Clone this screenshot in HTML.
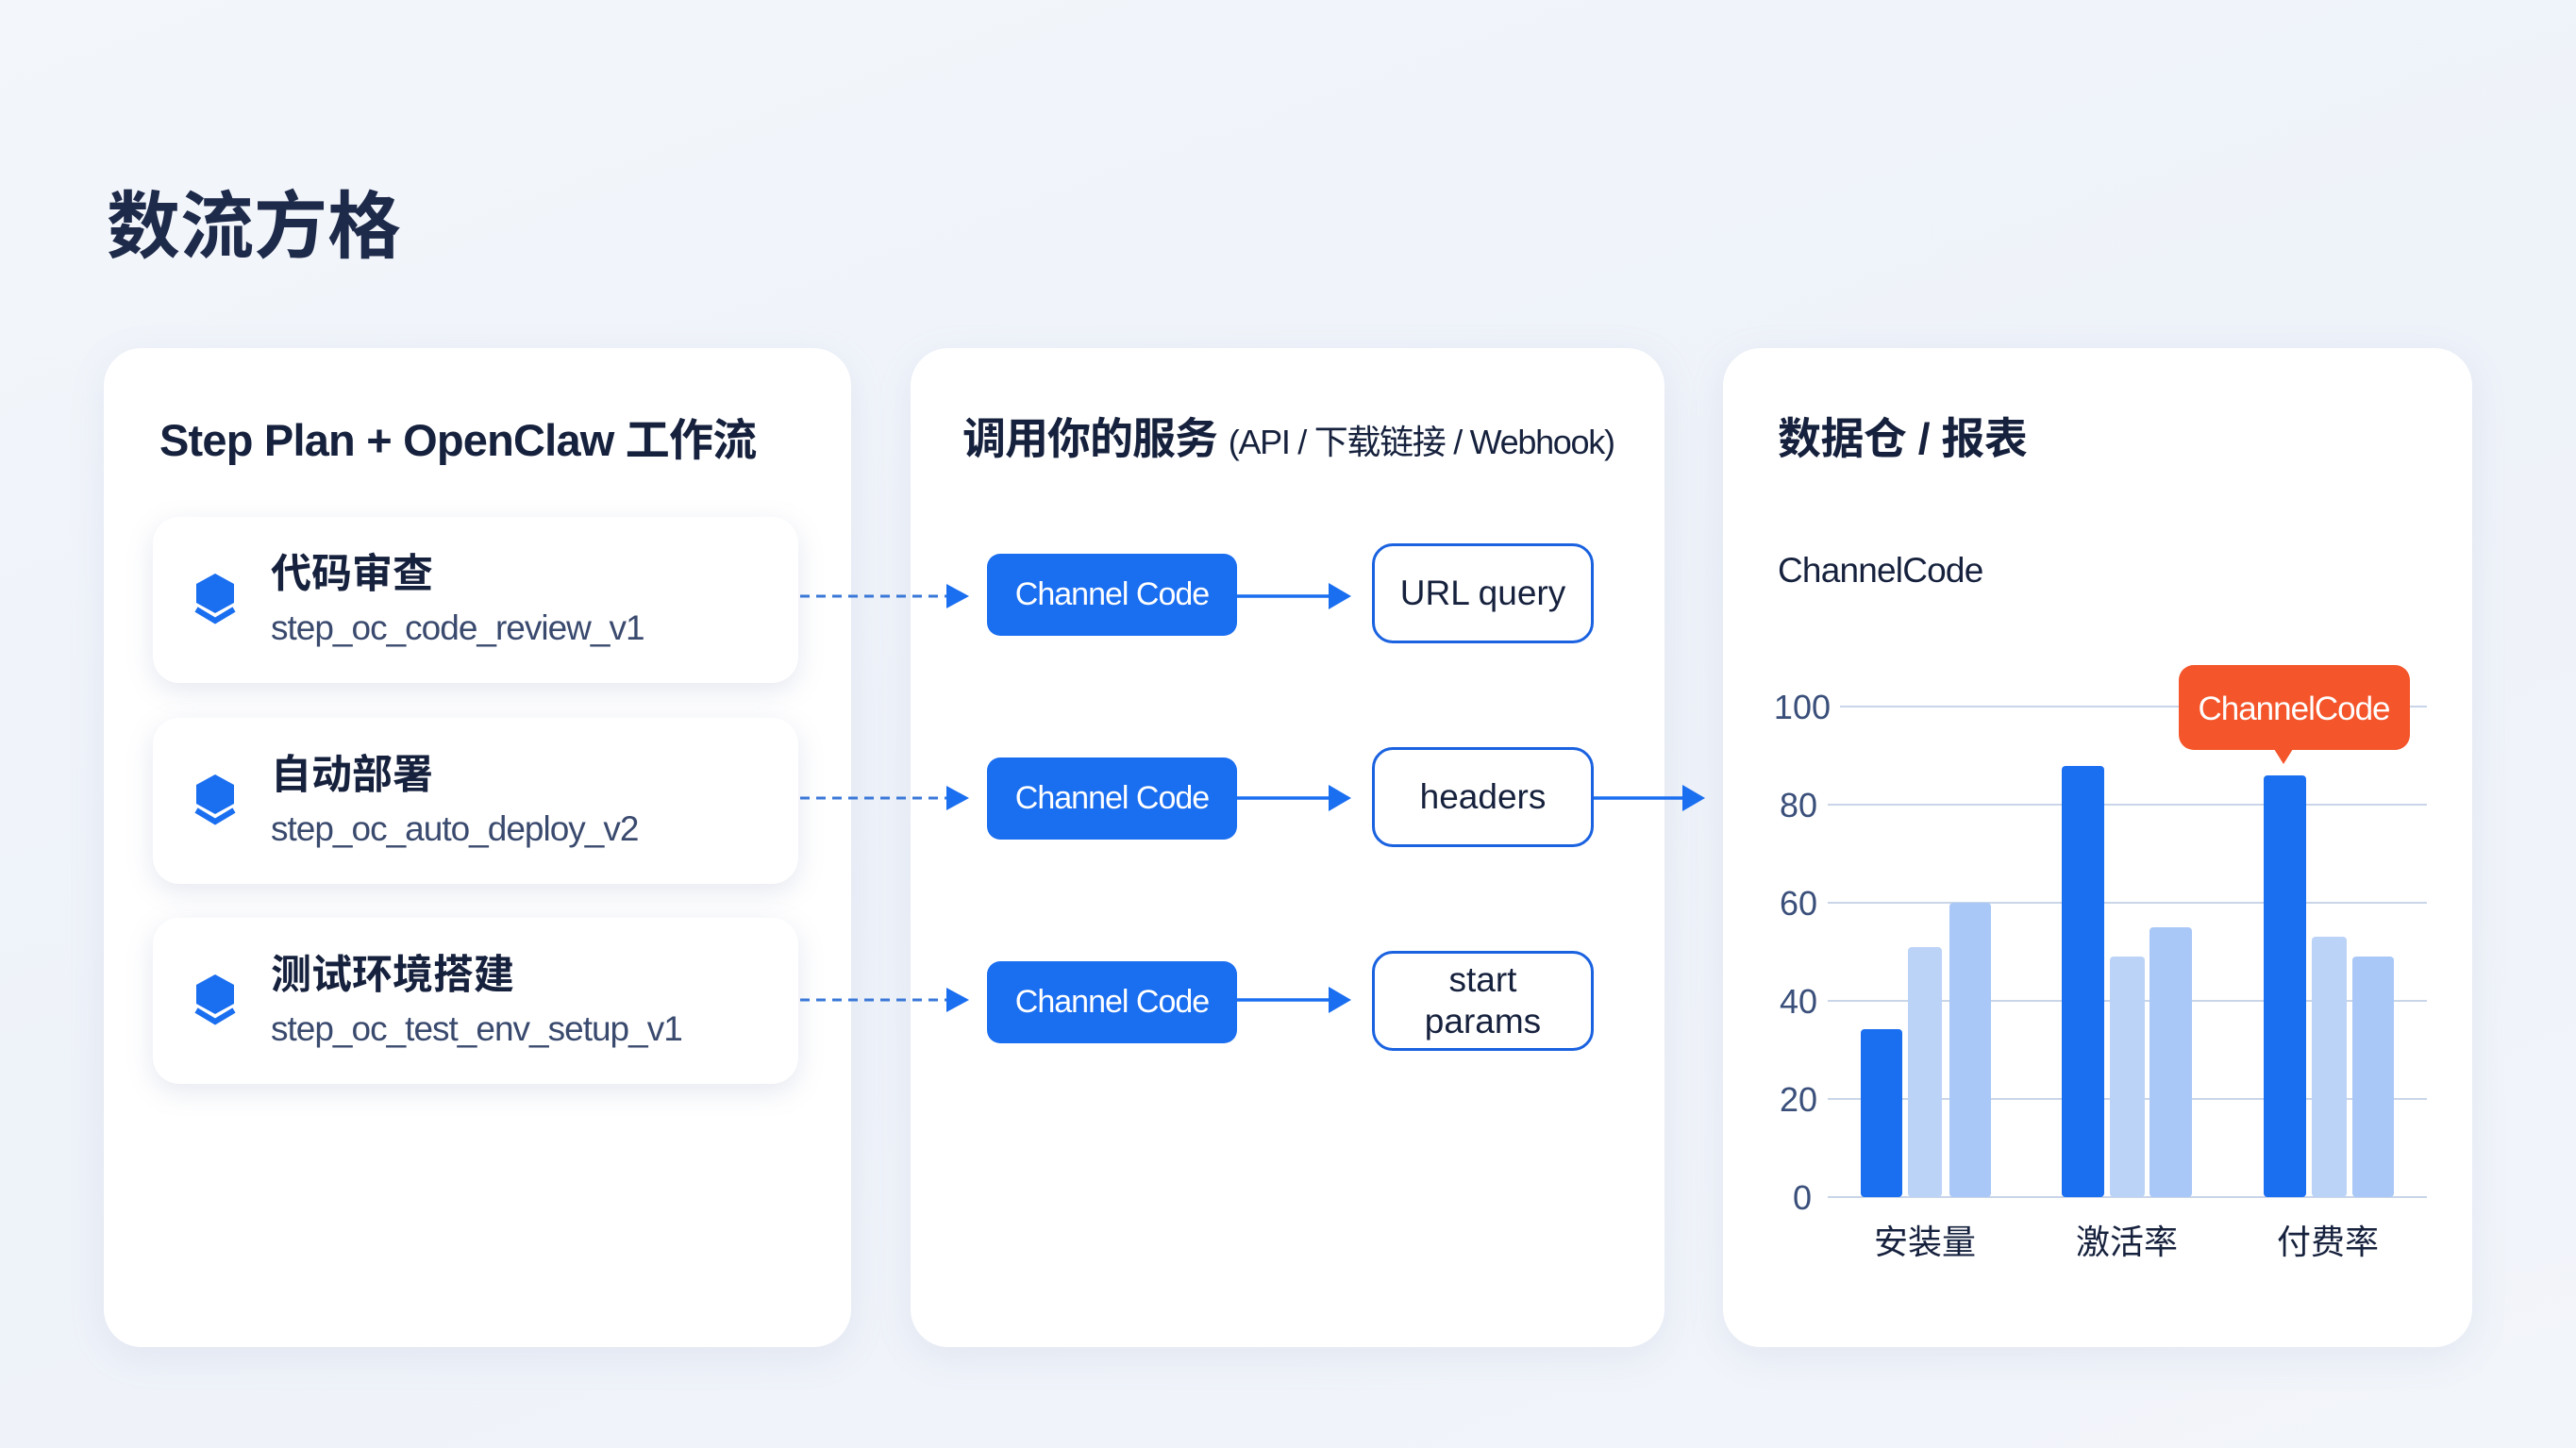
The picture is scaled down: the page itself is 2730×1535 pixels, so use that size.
<!DOCTYPE html>
<html><head><meta charset="utf-8"><style>
*{margin:0;padding:0;box-sizing:border-box}
body{width:2730px;height:1535px;overflow:hidden;position:relative;font-family:"Liberation Sans","Noto Sans CJK SC",sans-serif;background:linear-gradient(160deg,#f3f6fb 0%,#eef2f9 50%,#f2f5fa 100%);color:#16213d}
.abs{position:absolute}
.panel{position:absolute;background:#fff;border-radius:40px;box-shadow:0 10px 40px rgba(120,140,180,0.12)}
.ptitle{position:absolute;font-size:46px;font-weight:bold;color:#16213d;white-space:nowrap;letter-spacing:-0.5px}
.card{position:absolute;left:162px;width:684px;height:176px;background:#fff;border-radius:28px;box-shadow:0 8px 28px rgba(110,130,170,0.18)}
.card .t{position:absolute;left:125px;top:26px;font-size:43px;font-weight:bold;color:#16213d}
.card .s{position:absolute;left:125px;top:97px;font-size:37px;color:#3a4a6e;letter-spacing:-1px}
.card svg{position:absolute;left:42px;top:60px}
.btn{position:absolute;left:1046px;width:265px;height:87px;background:#1a6ef0;border-radius:14px;color:#fff;font-size:34px;letter-spacing:-1px;display:flex;align-items:center;justify-content:center}
.ob{position:absolute;left:1454px;width:235px;height:106px;border:3px solid #1a62e0;border-radius:22px;background:#fff;font-size:37px;color:#16213d;display:flex;align-items:center;justify-content:center;text-align:center;line-height:1.2}
</style></head><body>
<div class="abs" style="left:113px;top:178px;font-size:78px;font-weight:bold;color:#1e2a4a">数流方格</div>

<div class="panel" style="left:110px;top:369px;width:792px;height:1059px"></div>
<div class="panel" style="left:965px;top:369px;width:799px;height:1059px"></div>
<div class="panel" style="left:1826px;top:369px;width:794px;height:1059px"></div>

<div class="ptitle" style="left:169px;top:428px;font-size:47px;letter-spacing:-0.8px">Step Plan + OpenClaw 工作流</div>
<div class="ptitle" style="left:1020px;top:429px;letter-spacing:-1px">调用你的服务 <span style="font-size:36px;font-weight:normal;letter-spacing:-1.3px">(API / 下载链接 / Webhook)</span></div>
<div class="ptitle" style="left:1884px;top:429px">数据仓 / 报表</div>

<div class="card" style="top:548px"><svg width="48" height="58" viewBox="0 0 48 58"><polygon points="24,0 44,11 44,31 24,42 4,31 4,11" fill="#1a6ef0"/><polyline points="4,38 24,50 44,38" fill="none" stroke="#1a6ef0" stroke-width="6"/></svg><div class="t">代码审查</div><div class="s">step_oc_code_review_v1</div></div>
<div class="card" style="top:761px"><svg width="48" height="58" viewBox="0 0 48 58"><polygon points="24,0 44,11 44,31 24,42 4,31 4,11" fill="#1a6ef0"/><polyline points="4,38 24,50 44,38" fill="none" stroke="#1a6ef0" stroke-width="6"/></svg><div class="t">自动部署</div><div class="s">step_oc_auto_deploy_v2</div></div>
<div class="card" style="top:973px"><svg width="48" height="58" viewBox="0 0 48 58"><polygon points="24,0 44,11 44,31 24,42 4,31 4,11" fill="#1a6ef0"/><polyline points="4,38 24,50 44,38" fill="none" stroke="#1a6ef0" stroke-width="6"/></svg><div class="t">测试环境搭建</div><div class="s">step_oc_test_env_setup_v1</div></div>

<svg class="abs" style="left:0;top:0" width="2730" height="1535">
<g stroke="#3a78d8" stroke-width="3" stroke-dasharray="10,7" fill="none">
<line x1="848" y1="632" x2="1003" y2="632"/><line x1="848" y1="846" x2="1003" y2="846"/><line x1="848" y1="1060" x2="1003" y2="1060"/></g>
<g fill="#1a6ef0"><polygon points="1003,619 1027,632 1003,645"/><polygon points="1003,833 1027,846 1003,859"/><polygon points="1003,1047 1027,1060 1003,1073"/></g>
<g stroke="#1a6ef0" stroke-width="3.5"><line x1="1311" y1="632" x2="1410" y2="632"/><line x1="1311" y1="846" x2="1410" y2="846"/><line x1="1311" y1="1060" x2="1410" y2="1060"/><line x1="1689" y1="846" x2="1785" y2="846"/></g>
<g fill="#1a6ef0"><polygon points="1408,618 1432,632 1408,646"/><polygon points="1408,832 1432,846 1408,860"/><polygon points="1408,1046 1432,1060 1408,1074"/><polygon points="1783,832 1807,846 1783,860"/></g>
</svg>

<div class="btn" style="top:587px">Channel Code</div>
<div class="btn" style="top:803px">Channel Code</div>
<div class="btn" style="top:1019px">Channel Code</div>
<div class="ob" style="top:576px">URL query</div>
<div class="ob" style="top:792px">headers</div>
<div class="ob" style="top:1008px">start<br>params</div>

<div class="abs" style="left:1884px;top:584px;font-size:37px;letter-spacing:-0.8px;color:#16213d">ChannelCode</div>

<svg class="abs" style="left:0;top:0" width="2730" height="1535" font-family="Liberation Sans, Noto Sans CJK SC, sans-serif">
<g stroke="#c9d5e8" stroke-width="2">
<line x1="1950" y1="749" x2="2572" y2="749"/><line x1="1937" y1="853" x2="2572" y2="853"/><line x1="1937" y1="957" x2="2572" y2="957"/><line x1="1937" y1="1061" x2="2572" y2="1061"/><line x1="1937" y1="1165" x2="2572" y2="1165"/><line x1="1937" y1="1269" x2="2572" y2="1269"/></g>
<g font-size="36" fill="#3a4f7a" text-anchor="end">
<text x="1940" y="762">100</text><text x="1926" y="866">80</text><text x="1926" y="970">60</text><text x="1926" y="1074">40</text><text x="1926" y="1178">20</text><text x="1920" y="1282">0</text></g>
<g>
<rect x="1972" y="1091" width="44" height="178" rx="4" fill="#1a6ef0"/>
<rect x="2022" y="1004" width="36" height="265" rx="4" fill="#bcd3f8"/>
<rect x="2066" y="957" width="44" height="312" rx="4" fill="#a9c8f7"/>
<rect x="2185" y="812" width="45" height="457" rx="4" fill="#1a6ef0"/>
<rect x="2236" y="1014" width="37" height="255" rx="4" fill="#bcd3f8"/>
<rect x="2278" y="983" width="45" height="286" rx="4" fill="#a9c8f7"/>
<rect x="2399" y="822" width="45" height="447" rx="4" fill="#1a6ef0"/>
<rect x="2450" y="993" width="37" height="276" rx="4" fill="#bcd3f8"/>
<rect x="2493" y="1014" width="44" height="255" rx="4" fill="#a9c8f7"/>
</g>
<g font-size="36" fill="#16213d" text-anchor="middle">
<text x="2040" y="1329">安装量</text><text x="2254" y="1329">激活率</text><text x="2467" y="1329">付费率</text></g>
<rect x="2309" y="705" width="245" height="90" rx="16" fill="#f4552a"/>
<polygon points="2410,794 2430,794 2420,810" fill="#f4552a"/>
<text x="2431" y="763" font-size="35" fill="#fff" text-anchor="middle" letter-spacing="-1">ChannelCode</text>
</svg>
</body></html>
